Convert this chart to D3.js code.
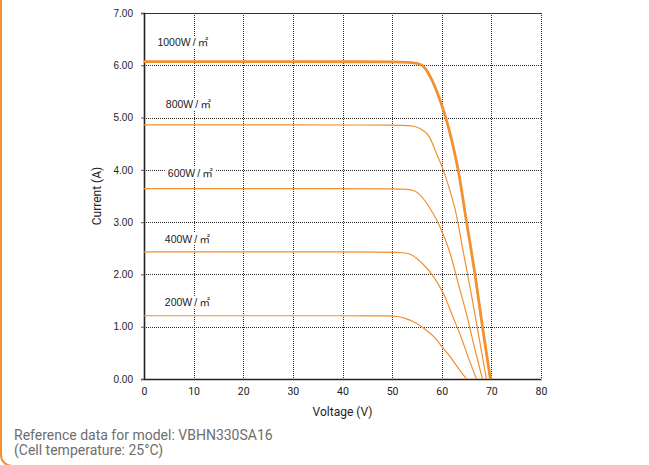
<!DOCTYPE html>
<html>
<head>
<meta charset="utf-8">
<script src="https://cdn.jsdelivr.net/npm/d3@7"></script>
<style>
    body { margin: 0; background: #fff; }
    svg { display: block; }
</style>
</head>
<body>
<script>
// ---- data (Voltage in V, Current in A) ----
let irradiance = ["1000W\u2009/\u2009㎡", "800W\u2009/\u2009㎡", "600W\u2009/\u2009㎡", "400W\u2009/\u2009㎡", "200W\u2009/\u2009㎡"];

let volt1000 = [0, 30, 50, 54, 56, 57.7, 59.0, 60.8, 62.0, 63.3, 65.0, 66.7, 68.2, 69.8];
let curr1000 = [6.07, 6.07, 6.065, 6.05, 6.0, 5.78, 5.50, 5.00, 4.57, 4.00, 3.00, 2.00, 1.00, 0];

let volt800 = [0, 30, 49.5, 53.5, 55.6, 57.5, 59.0, 60.3, 61.5, 62.8, 64.4, 66.0, 67.5, 69.0];
let curr800 = [4.86, 4.86, 4.855, 4.845, 4.79, 4.63, 4.30, 4.00, 3.65, 3.20, 2.40, 1.60, 0.80, 0];

let volt600 = [0, 30, 48.4, 52.4, 54.4, 56.1, 57.4, 59.2, 60.4, 61.7, 63.4, 65.1, 66.6, 68.2];
let curr600 = [3.64, 3.64, 3.636, 3.63, 3.60, 3.47, 3.30, 3.00, 2.74, 2.40, 1.80, 1.20, 0.60, 0];

let volt400 = [0, 30, 47.2, 51.2, 53.2, 54.9, 56.2, 58.0, 59.2, 60.5, 62.2, 63.9, 65.4, 67.0];
let curr400 = [2.43, 2.43, 2.428, 2.423, 2.40, 2.31, 2.20, 2.00, 1.83, 1.60, 1.20, 0.80, 0.40, 0];

let volt200 = [0, 30, 45.2, 49.2, 51.2, 52.9, 54.2, 56.0, 57.2, 58.5, 60.2, 61.9, 63.4, 65.0];
let curr200 = [1.21, 1.21, 1.209, 1.206, 1.195, 1.15, 1.10, 1.00, 0.91, 0.80, 0.60, 0.40, 0.20, 0];

// where each irradiance label sits, in data units [V, A]
let labelAt = [[2.7, 6.43], [4.4, 5.25], [4.8, 3.93], [4.2, 2.68], [4.2, 1.47]];

let xTicks = [0, 10, 20, 30, 40, 50, 60, 70, 80];
let yTicks = [0, 1, 2, 3, 4, 5, 6, 7];

let footnote = ["Reference data for model: VBHN330SA16", "(Cell temperature: 25°C)"];

// ---- layout ----
let width = 649,
    height = 465,
    plotLeft = 144, plotRight = 541, plotTop = 13, plotBottom = 379;

let orange = "#f39030";
let uiFont = "Roboto, 'Noto Sans', sans-serif";

let svg = d3.select("body")
    .append("svg")
    .attr("width", width)
    .attr("height", height);

// orange frame of the card (only the left / bottom-left corner is visible)
svg.append("rect")
    .attr("x", 1).attr("y", -30)
    .attr("width", 800).attr("height", 496)
    .attr("rx", 11)
    .attr("fill", "none")
    .attr("stroke", orange)
    .attr("stroke-width", 2);

let x = d3.scaleLinear().domain([0, 80]).range([plotLeft, plotRight]);
let y = d3.scaleLinear().domain([0, 7]).range([plotBottom, plotTop]);

/* ------- GRID -------*/
let grid = svg.append("g").attr("class", "grid");

grid.selectAll("line.h")
    .data(yTicks.filter(function(d){ return d > 0 && d < 7; }))
    .enter().append("line")
    .attr("class", "h")
    .attr("x1", plotLeft).attr("x2", plotRight)
    .attr("y1", function(d){ return Math.round(y(d)) + 0.5; })
    .attr("y2", function(d){ return Math.round(y(d)) + 0.5; });

grid.selectAll("line.v")
    .data(xTicks.filter(function(d){ return d > 0; }))
    .enter().append("line")
    .attr("class", "v")
    .attr("y1", plotTop).attr("y2", plotBottom)
    .attr("x1", function(d){ return Math.round(x(d)) + 0.5; })
    .attr("x2", function(d){ return Math.round(x(d)) + 0.5; });

grid.selectAll("line")
    .attr("stroke", "#2a2a2a")
    .attr("stroke-width", 1)
    .attr("stroke-dasharray", "1,1");

// top edge solid
svg.append("line")
    .attr("x1", plotLeft).attr("x2", plotRight + 1)
    .attr("y1", plotTop + 0.5).attr("y2", plotTop + 0.5)
    .attr("stroke", "#333");

/* ------- AXES -------*/
let xAxis = d3.axisBottom(x).tickValues(xTicks).tickSize(0).tickPadding(9);
let yAxis = d3.axisLeft(y).tickValues(yTicks).tickSize(3).tickPadding(8)
    .tickFormat(d3.format(".2f"));

let gx = svg.append("g")
    .attr("transform", "translate(0," + plotBottom + ")")
    .call(xAxis);
gx.select(".domain").attr("stroke", "#222").attr("stroke-width", 1.6);
gx.selectAll("text")
    .attr("font-family", uiFont)
    .attr("font-size", 10.5)
    .attr("fill", "#222");

let gy = svg.append("g")
    .attr("transform", "translate(" + plotLeft + ",0)")
    .call(yAxis);
gy.select(".domain").attr("stroke", "#222").attr("stroke-width", 1.6);
gy.selectAll(".tick line").attr("stroke", "#555");
gy.selectAll("text")
    .attr("font-family", "'Liberation Sans', Arial, sans-serif")
    .attr("font-size", 10)
    .attr("fill", "#222");

svg.append("text")
    .attr("x", (plotLeft + plotRight) / 2)
    .attr("y", 416)
    .attr("text-anchor", "middle")
    .attr("font-family", uiFont)
    .attr("font-size", 12)
    .attr("fill", "#222")
    .text("Voltage (V)");

svg.append("text")
    .attr("transform", "translate(101," + (plotTop + plotBottom) / 2 + ") rotate(-90)")
    .attr("text-anchor", "middle")
    .attr("font-family", uiFont)
    .attr("font-size", 12)
    .attr("fill", "#222")
    .text("Current (A)");

/* ------- CURVES -------*/
let series = [
    {v: volt1000, i: curr1000},
    {v: volt800, i: curr800},
    {v: volt600, i: curr600},
    {v: volt400, i: curr400},
    {v: volt200, i: curr200}
];

let line = d3.line()
    .x(function(d){ return x(d[0]); })
    .y(function(d){ return y(d[1]); })
    .curve(d3.curveMonotoneX);

/* ------- IRRADIANCE LABELS (white boxes break the grid) -------*/
let labels = svg.append("g").attr("class", "labels");

labels.selectAll("g")
    .data(irradiance)
    .enter().append("g")
    .each(function(d, k){
        let g = d3.select(this);
        let t = g.append("text")
            .attr("x", x(labelAt[k][0]))
            .attr("y", y(labelAt[k][1]))
            .attr("dy", "0.35em")
            .attr("font-family", "'Liberation Sans', 'Noto Sans CJK JP', sans-serif")
            .attr("font-size", 10.5)
            .attr("fill", "#222")
            .text(d);
        let bb = t.node().getBBox();
        g.insert("rect", "text")
            .attr("x", bb.x - 2).attr("y", bb.y)
            .attr("width", bb.width + 4).attr("height", bb.height)
            .attr("fill", "#fff");
    });

svg.append("g").attr("class", "curves")
    .selectAll("path")
    .data(series.slice().reverse())
    .enter().append("path")
    .attr("d", function(s){
        return line(s.v.map(function(v, k){ return [v, s.i[k]]; }));
    })
    .attr("fill", "none")
    .attr("stroke", orange)
    .attr("stroke-width", function(s, k){ return k === series.length - 1 ? 2.8 : 1.2; });

/* ------- FOOTNOTE -------*/
svg.append("g")
    .selectAll("text")
    .data(footnote)
    .enter().append("text")
    .attr("x", 14)
    .attr("y", function(d, k){ return 440 + k * 14.5; })
    .attr("font-family", uiFont)
    .attr("font-size", 14)
    .attr("fill", "#6e6e6e")
    .text(function(d){ return d; });
</script>
</body>
</html>
